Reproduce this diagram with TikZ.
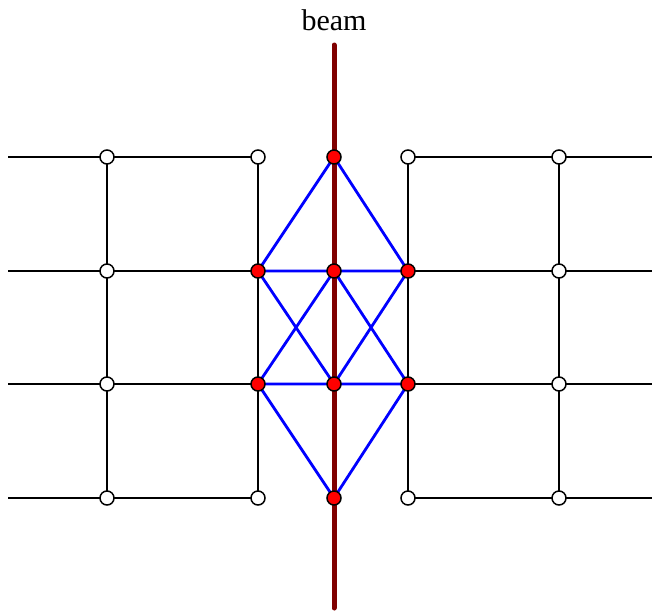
\documentclass[tikz,border=0pt]{standalone}
\usepackage{fontspec}
\setmainfont{Liberation Serif}
\begin{document}
\begin{tikzpicture}[x=1pt,y=-1pt,
  gridline/.style={black,line width=1.5pt},
  blueline/.style={blue,line width=2.8pt},
  beamline/.style={draw=black!50!red,line width=5pt,line cap=round},
  freenode/.style={circle,draw=black,fill=white,line width=1.5pt,minimum size=14pt,inner sep=0pt},
  hitnode/.style={circle,draw=black,fill=red,line width=1.5pt,minimum size=14pt,inner sep=0pt}]
\useasboundingbox (0,0) rectangle (652,613);
% coordinates
\foreach \r/\y in {1/157,2/271,3/384,4/498}{
  \coordinate (L\r) at (8,\y);
  \coordinate (R\r) at (652,\y);
}
% left grid
\foreach \r/\y in {1/157,2/271,3/384,4/498}{
  \coordinate (a\r) at (107,\y);
  \coordinate (b\r) at (258,\y);
  \coordinate (c\r) at (334,\y);
  \coordinate (d\r) at (408,\y);
  \coordinate (e\r) at (559,\y);
}
\foreach \r in {1,2,3,4}{
  \draw[gridline] (L\r) -- (b\r);
  \draw[gridline] (d\r) -- (R\r);
}
\draw[gridline] (a1) -- (a4);
\draw[gridline] (b1) -- (b4);
\draw[gridline] (d1) -- (d4);
\draw[gridline] (e1) -- (e4);
% blue mesh
\draw[blueline] (b2) -- (c1) -- (d2) -- (b2);
\draw[blueline] (b3) -- (c4) -- (d3) -- (b3);
\draw[blueline] (b2) -- (c3) -- (d2);
\draw[blueline] (b3) -- (c2) -- (d3);
% beam
\coordinate (btop) at (334,45);
\coordinate (bbot) at (334,608);
\draw[beamline] (btop) -- (bbot);
\node[font=\fontsize{30}{36}\selectfont,anchor=base] (beamlabel) at (334,30) {beam};
% nodes
\foreach \r in {1,2,3,4}{
  \node[freenode] (na\r) at (a\r) {};
  \node[freenode] (ne\r) at (e\r) {};
}
\node[freenode] (nb1) at (b1) {};
\node[freenode] (nb4) at (b4) {};
\node[freenode] (nd1) at (d1) {};
\node[freenode] (nd4) at (d4) {};
\node[hitnode] (nb2) at (b2) {};
\node[hitnode] (nb3) at (b3) {};
\node[hitnode] (nd2) at (d2) {};
\node[hitnode] (nd3) at (d3) {};
\foreach \r in {1,2,3,4}{
  \node[hitnode] (nc\r) at (c\r) {};
}
\end{tikzpicture}
\end{document}
